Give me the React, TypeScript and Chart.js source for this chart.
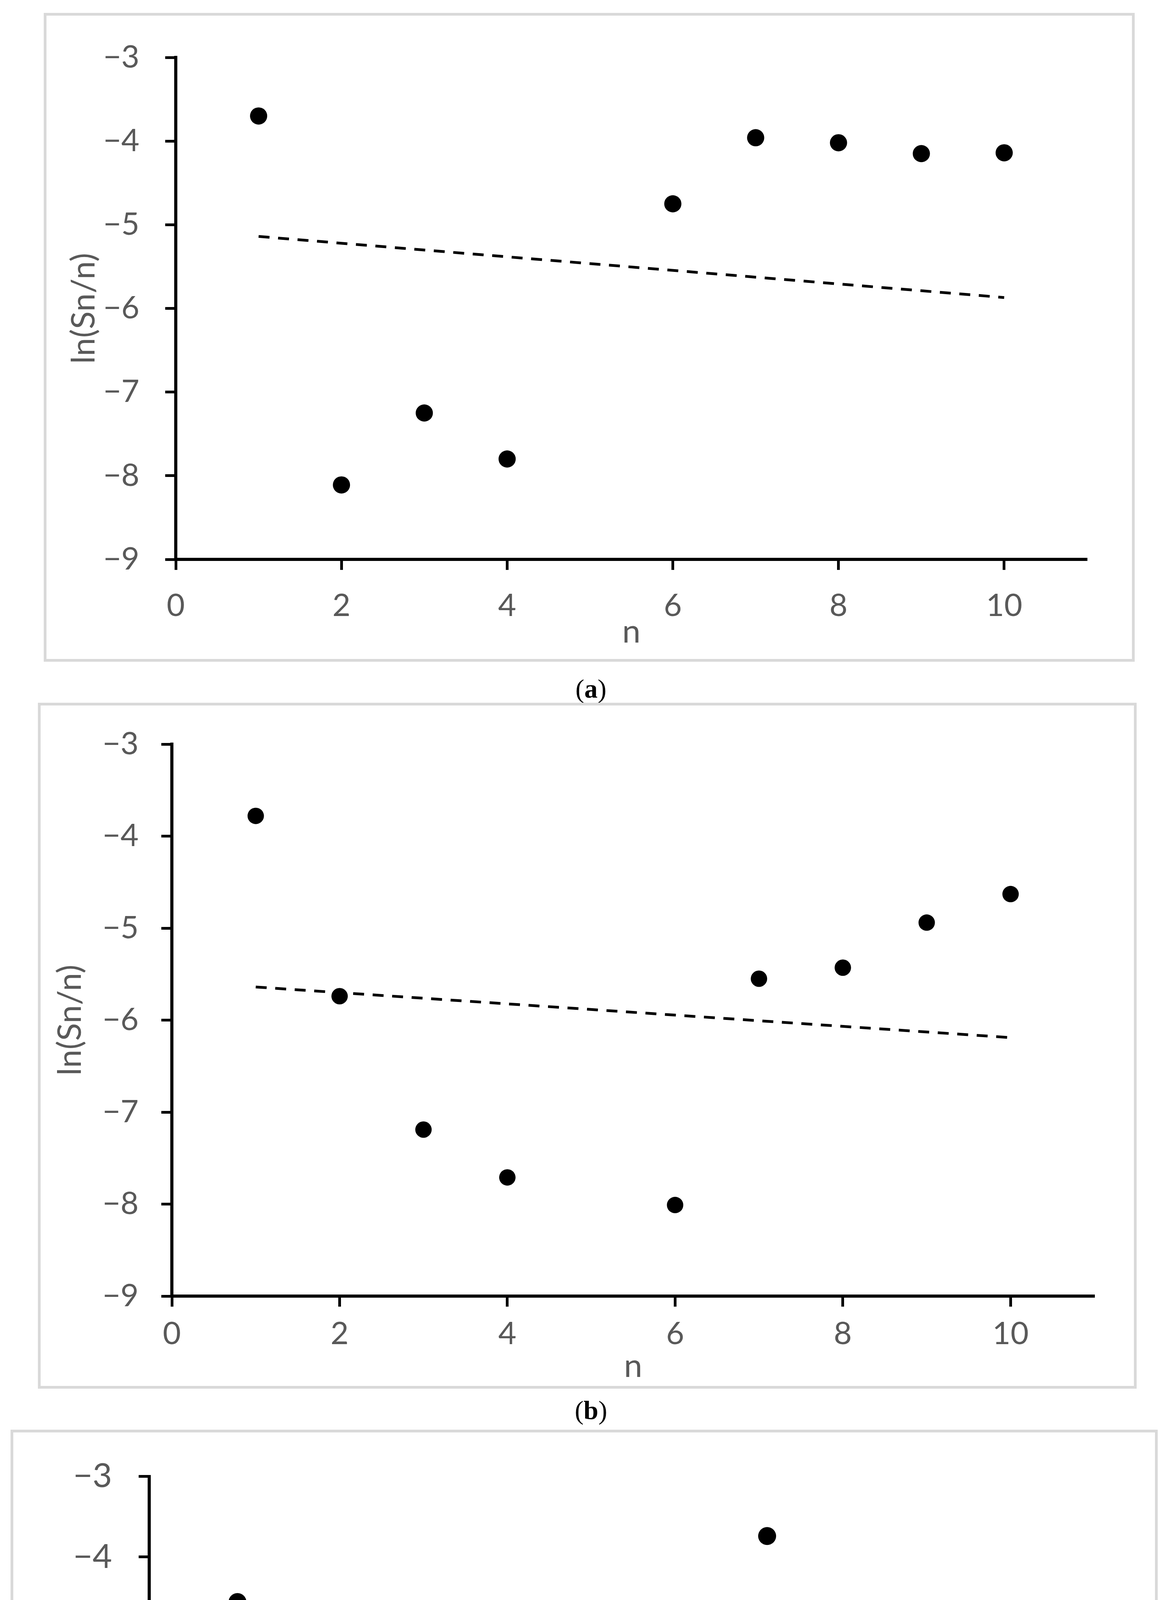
import React, { useEffect, useRef } from "react";
import { Chart, registerables } from "chart.js";

Chart.register(...registerables);

// ---------- data ----------
const nValues = [1, 2, 3, 4, 6, 7, 8, 9, 10];
const seriesA = [-3.7, -8.11, -7.25, -7.8, -4.75, -3.96, -4.02, -4.15, -4.14];
const seriesB = [-3.78, -5.74, -7.19, -7.71, -8.01, -5.55, -5.43, -4.94, -4.63];
const seriesC = [-4.56, -8.76, -7.59, -7.98, -5.07, -3.74, -4.86, -4.92, -5.03];
const trendN = [1, 10];
const trendA = [-5.14, -5.87];
const trendB = [-5.64, -6.19];
const trendC = [-5.69, -6.21];
const xRange = [0, 11];
const xTickValues = [0, 2, 4, 6, 8, 10];
const yMaxAll = -3;
const yMinAB = -9;
const yMinC = -10;
const yTitle = "ln(Sn/n)";
const xTitle = "n";
const captions = ["a", "b", "c"];

// ---------- layout / style ----------
const FONT = "Lato, 'Open Sans', sans-serif";
const TICK_LEN = 27;
const LABEL_GREY = "#595959";

type Geo = {
  box: { l: number; t: number; r: number; b: number };
  plot: { left: number; right: number; top: number; bottom: number };
  yTitleX: number;
  xTitleY: number;
  xTickY: number;
  yTickRight: number;
  tickFont: number;
  titleFont: number;
  r: number;
  capY: number;
};

const geoA: Geo = {
  box: { l: 112, t: 33, r: 2905, b: 1694 },
  plot: { left: 450, right: 2783, top: 90, bottom: 1432 },
  yTitleX: 215, xTitleY: 1618, xTickY: 1551, yTickRight: 357,
  tickFont: 80, titleFont: 84, r: 22, capY: 1763,
};
const geoB: Geo = {
  box: { l: 97, t: 1799, r: 2910, b: 3555 },
  plot: { left: 440, right: 2802, top: 1863, bottom: 3318 },
  yTitleX: 180, xTitleY: 3498, xTickY: 3415, yTickRight: 355,
  tickFont: 80, titleFont: 84, r: 21, capY: 3610,
};
const geoC: Geo = {
  box: { l: 27, t: 3660, r: 2964, b: 5488 },
  plot: { left: 382, right: 2868, top: 3723, bottom: 5223 },
  yTitleX: 110, xTitleY: 5444, xTickY: 5348, yTickRight: 287,
  tickFont: 86, titleFont: 90, r: 23, capY: 5559,
};

const fmt = (v: number) => (v < 0 ? "\u2212" : "") + Math.abs(v);

function Panel({ g, values, trend, yMin, cap }: { g: Geo; values: number[]; trend: number[]; yMin: number; cap: string }) {
  const ref = useRef<HTMLCanvasElement>(null);
  const W = g.box.r - g.box.l;
  const H = g.box.b - g.box.t;
  useEffect(() => {
    const tickLH = g.tickFont * 1.2;
    const titleLH = g.titleFont * 1.2;
    const padLeft = g.yTitleX - titleLH / 2 - g.box.l;
    const padTop = g.plot.top - g.box.t;
    const padRight = g.box.r - g.plot.right;
    const padBottom = g.box.b - (g.xTitleY + titleLH / 2);
    const yWidth = g.plot.left - g.box.l - padLeft;
    const xHeight = g.xTitleY + titleLH / 2 - g.plot.bottom;
    const xTickPad = g.xTickY - g.plot.bottom - TICK_LEN - tickLH / 2;
    const yTickPad = g.plot.left - TICK_LEN - g.yTickRight;
    const gridOpts = {
      display: true,
      drawOnChartArea: false,
      drawTicks: true,
      tickLength: TICK_LEN,
      tickWidth: 7,
      tickColor: "#000",
    };
    const chart = new Chart(ref.current as HTMLCanvasElement, {
      type: "scatter",
      data: {
        datasets: [
          {
            data: nValues.map((n, i) => ({ x: n, y: values[i] })),
            pointRadius: g.r,
            pointBackgroundColor: "#000",
            pointBorderColor: "#000",
            pointBorderWidth: 0,
            order: 0,
          },
          {
            data: trendN.map((n, i) => ({ x: n, y: trend[i] })),
            showLine: true,
            borderColor: "#000",
            borderWidth: 7,
            borderDash: [28, 22],
            borderCapStyle: "butt",
            pointRadius: 0,
            fill: false,
            order: 1,
          },
        ],
      } as any,
      options: {
        responsive: false,
        animation: false,
        devicePixelRatio: 1,
        events: [],
        layout: { padding: { left: padLeft, top: padTop, right: padRight, bottom: padBottom } },
        plugins: { legend: { display: false }, tooltip: { enabled: false } },
        scales: {
          x: {
            type: "linear",
            position: "bottom",
            min: xRange[0],
            max: xRange[1],
            bounds: "data",
            afterBuildTicks: (s: any) => {
              s.ticks = xTickValues.map((v) => ({ value: v }));
            },
            afterFit: (s: any) => { s.height = xHeight; },
            ticks: {
              padding: xTickPad,
              color: LABEL_GREY,
              maxRotation: 0,
              autoSkip: false,
              font: { family: FONT, size: g.tickFont, lineHeight: 1.2 },
            },
            grid: gridOpts,
            border: { display: true, color: "#000", width: 8 },
            title: {
              display: true,
              text: xTitle,
              color: LABEL_GREY,
              padding: 0,
              font: { family: FONT, size: g.titleFont, lineHeight: 1.2 },
            },
          },
          y: {
            type: "linear",
            position: "left",
            min: yMin,
            max: yMaxAll,
            afterFit: (s: any) => { s.width = yWidth; },
            ticks: {
              stepSize: 1,
              padding: yTickPad,
              color: LABEL_GREY,
              autoSkip: false,
              callback: (v: any) => fmt(Number(v)),
              font: { family: FONT, size: g.tickFont, lineHeight: 1.2 },
            },
            grid: gridOpts,
            border: { display: true, color: "#000", width: 8 },
            title: {
              display: true,
              text: yTitle,
              color: LABEL_GREY,
              padding: 0,
              font: { family: FONT, size: g.titleFont, lineHeight: 1.2 },
            },
          },
        },
      } as any,
    });
    return () => chart.destroy();
  }, []);
  return (
    <>
      <div
        style={{
          position: "absolute",
          left: g.box.l,
          top: g.box.t,
          width: W,
          height: H,
          boxSizing: "border-box",
          border: "7px solid #d9d9d9",
          background: "#fff",
        }}
      />
      <canvas
        ref={ref}
        width={W}
        height={H}
        style={{ position: "absolute", left: g.box.l, top: g.box.t, width: W, height: H }}
      />
      <div
        style={{
          position: "absolute",
          left: 1313,
          width: 400,
          top: g.capY - 40,
          height: 80,
          lineHeight: "80px",
          textAlign: "center",
          fontFamily: "'Liberation Serif', 'Times New Roman', serif",
          fontSize: 68,
          color: "#000",
        }}
      >
        (<b>{cap}</b>)
      </div>
    </>
  );
}

export default function App() {
  return (
    <div style={{ position: "absolute", left: 0, top: 0, width: 2998, height: 5608, background: "#fff", overflow: "hidden" }}>
      <Panel g={geoA} values={seriesA} trend={trendA} yMin={yMinAB} cap={captions[0]} />
      <Panel g={geoB} values={seriesB} trend={trendB} yMin={yMinAB} cap={captions[1]} />
      <Panel g={geoC} values={seriesC} trend={trendC} yMin={yMinC} cap={captions[2]} />
    </div>
  );
}
